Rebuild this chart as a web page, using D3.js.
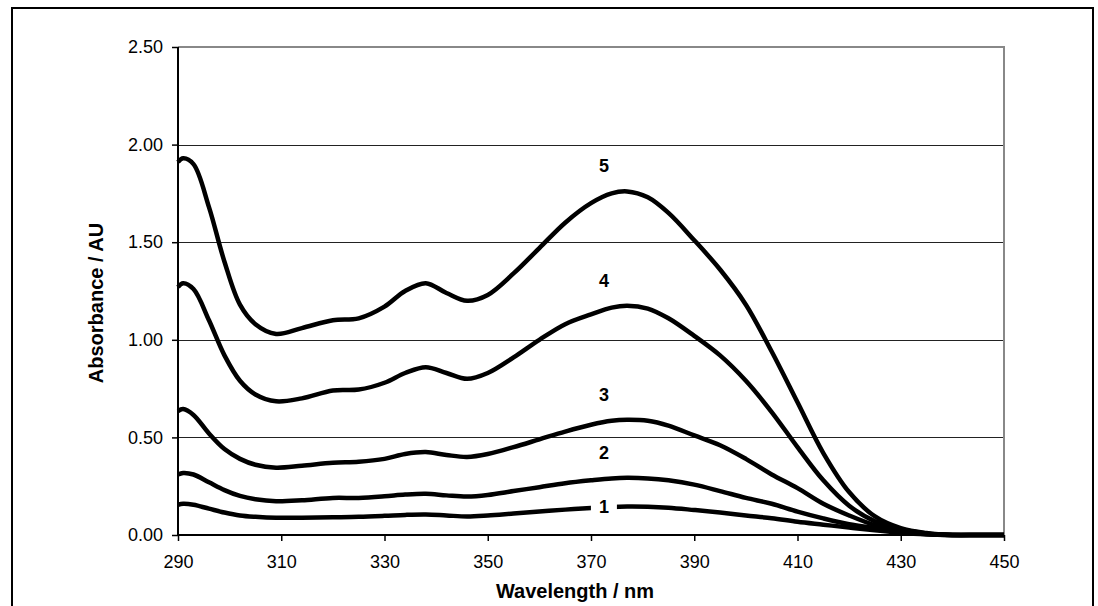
<!DOCTYPE html>
<html>
<head>
<meta charset="utf-8">
<script src="https://cdn.jsdelivr.net/npm/d3@7"></script>
<style>
  body { margin: 0; background: #fff; }
  svg { display: block; }
</style>
</head>
<body>
<div id="chart"></div>
<script>
// wavelengths (nm) shared by all five spectra
const wavelengths = [290, 291, 293, 296, 299, 302, 305, 309, 314, 320, 325, 330, 334, 338, 342, 346, 350, 355, 360, 365, 370, 374, 377, 381, 385, 390, 395, 400, 405, 410, 415, 420, 425, 430, 435, 440, 445, 450];

const abs1 = [0.155, 0.16, 0.155, 0.135, 0.115, 0.10, 0.093, 0.088, 0.089, 0.091, 0.093, 0.098, 0.103, 0.105, 0.10, 0.095, 0.10, 0.11, 0.12, 0.13, 0.138, 0.144, 0.146, 0.145, 0.14, 0.128, 0.115, 0.10, 0.086, 0.068, 0.053, 0.038, 0.024, 0.012, 0.004, 0, 0, 0];
const abs2 = [0.31, 0.318, 0.31, 0.27, 0.23, 0.20, 0.183, 0.173, 0.178, 0.19, 0.19, 0.198, 0.207, 0.211, 0.203, 0.197, 0.205, 0.225, 0.245, 0.265, 0.28, 0.29, 0.293, 0.29, 0.28, 0.258, 0.225, 0.19, 0.16, 0.12, 0.085, 0.055, 0.035, 0.016, 0.004, 0, 0, 0];
const abs3 = [0.635, 0.645, 0.615, 0.52, 0.44, 0.39, 0.36, 0.345, 0.355, 0.37, 0.375, 0.39, 0.415, 0.425, 0.41, 0.40, 0.415, 0.45, 0.49, 0.53, 0.565, 0.585, 0.59, 0.585, 0.56, 0.51, 0.46, 0.39, 0.31, 0.24, 0.16, 0.10, 0.05, 0.02, 0.005, 0, 0, 0];
const abs4 = [1.27, 1.29, 1.26, 1.10, 0.92, 0.79, 0.72, 0.685, 0.70, 0.74, 0.745, 0.78, 0.83, 0.86, 0.83, 0.80, 0.83, 0.91, 1.00, 1.08, 1.13, 1.165, 1.175, 1.16, 1.11, 1.02, 0.92, 0.79, 0.63, 0.45, 0.28, 0.15, 0.07, 0.03, 0.008, 0, 0, 0];
const abs5 = [1.91, 1.93, 1.90, 1.68, 1.40, 1.18, 1.08, 1.03, 1.06, 1.10, 1.11, 1.17, 1.25, 1.29, 1.24, 1.20, 1.23, 1.34, 1.47, 1.60, 1.70, 1.75, 1.76, 1.73, 1.65, 1.51, 1.36, 1.18, 0.94, 0.68, 0.42, 0.22, 0.095, 0.035, 0.01, 0, 0, 0];

const seriesNames = ['1', '2', '3', '4', '5'];
const seriesValues = [abs1, abs2, abs3, abs4, abs5];

const xTicks = [290, 310, 330, 350, 370, 390, 410, 430, 450];
const yTicks = [0, 0.5, 1.0, 1.5, 2.0, 2.5];

const width = 1098;
const height = 606;
const margin = { top: 47, right: 94, bottom: 71, left: 178 };

const svg = d3.select('#chart')
    .append('svg')
    .attr('width', width)
    .attr('height', height);

// outer frame
svg.append('rect')
    .attr('x', 12).attr('y', 8)
    .attr('width', 1081).attr('height', 610)
    .attr('fill', 'none')
    .attr('stroke', '#000')
    .attr('stroke-width', 2);

const x = d3.scaleLinear()
    .domain([290, 450])
    .range([margin.left, width - margin.right]);

const y = d3.scaleLinear()
    .domain([0, 2.5])
    .range([height - margin.bottom, margin.top]);

// grid lines
svg.append('g')
    .selectAll('line')
    .data(yTicks.filter(d => d > 0 && d < 2.5))
    .enter()
    .append('line')
    .attr('x1', x(290)).attr('x2', x(450))
    .attr('y1', d => Math.round(y(d)) + 0.5)
    .attr('y2', d => Math.round(y(d)) + 0.5)
    .attr('stroke', '#222')
    .attr('stroke-width', 1);

// plot area top / right border (gray)
svg.append('path')
    .attr('d', `M${x(290)},${y(2.5)}H${x(450)}V${y(0)}`)
    .attr('fill', 'none')
    .attr('stroke', '#888')
    .attr('stroke-width', 2);

// axes
const yAxis = svg.append('g')
    .attr('transform', `translate(${x(290)},0)`)
    .call(d3.axisLeft(y).tickValues(yTicks).tickFormat(d3.format('.2f')).tickSize(6).tickPadding(9));

const xAxis = svg.append('g')
    .attr('transform', `translate(0,${y(0)})`)
    .call(d3.axisBottom(x).tickValues(xTicks).tickFormat(d3.format('d')).tickSize(6).tickPadding(14));

[yAxis, xAxis].forEach(g => {
    g.select('.domain').attr('stroke', '#000').attr('stroke-width', 2);
    g.selectAll('.tick line').attr('stroke', '#000').attr('stroke-width', 1.5);
    g.selectAll('.tick text')
        .attr('fill', '#000')
        .style('font-family', 'Arial, "Liberation Sans", sans-serif')
        .style('font-size', '18px');
});
yAxis.select('.domain').attr('d', `M0,${y(2.5)}V${y(0)}`);
xAxis.select('.domain').attr('d', `M${x(290)},0H${x(450)}`);

// spectra
const line = d3.line()
    .x((d, i) => x(wavelengths[i]))
    .y(d => y(d))
    .curve(d3.curveCatmullRom.alpha(0.5));

svg.append('g')
    .selectAll('path')
    .data(seriesValues)
    .enter()
    .append('path')
    .attr('d', d => line(d))
    .attr('fill', 'none')
    .attr('stroke', '#000')
    .attr('stroke-width', 4.5)
    .attr('stroke-linejoin', 'round');

// series labels, placed over the main band maximum (377 nm)
const peakIndex = wavelengths.indexOf(377);
const labelFont = 'bold 18px Arial, "Liberation Sans", sans-serif';
seriesValues.forEach((vals, i) => {
    const peak = vals[peakIndex];
    const lx = x(372.5);
    const ly = i === 0 ? y(peak) : y(peak) - 25;
    const g = svg.append('g');
    if (i === 0) {
        g.append('rect')
            .attr('x', lx - 13).attr('y', ly - 11)
            .attr('width', 26).attr('height', 22)
            .attr('fill', '#fff');
    }
    g.append('text')
        .attr('x', lx).attr('y', ly)
        .attr('text-anchor', 'middle')
        .attr('dominant-baseline', 'central')
        .style('font', labelFont)
        .text(seriesNames[i]);
});

// axis titles
svg.append('text')
    .attr('x', 575)
    .attr('y', 591)
    .attr('text-anchor', 'middle')
    .attr('dominant-baseline', 'central')
    .style('font', 'bold 20px Arial, "Liberation Sans", sans-serif')
    .text('Wavelength / nm');

svg.append('text')
    .attr('transform', `translate(96,${(y(0) + y(2.5)) / 2 + 12}) rotate(-90)`)
    .attr('text-anchor', 'middle')
    .attr('dominant-baseline', 'central')
    .style('font', 'bold 20px Arial, "Liberation Sans", sans-serif')
    .text('Absorbance / AU');
</script>
</body>
</html>
